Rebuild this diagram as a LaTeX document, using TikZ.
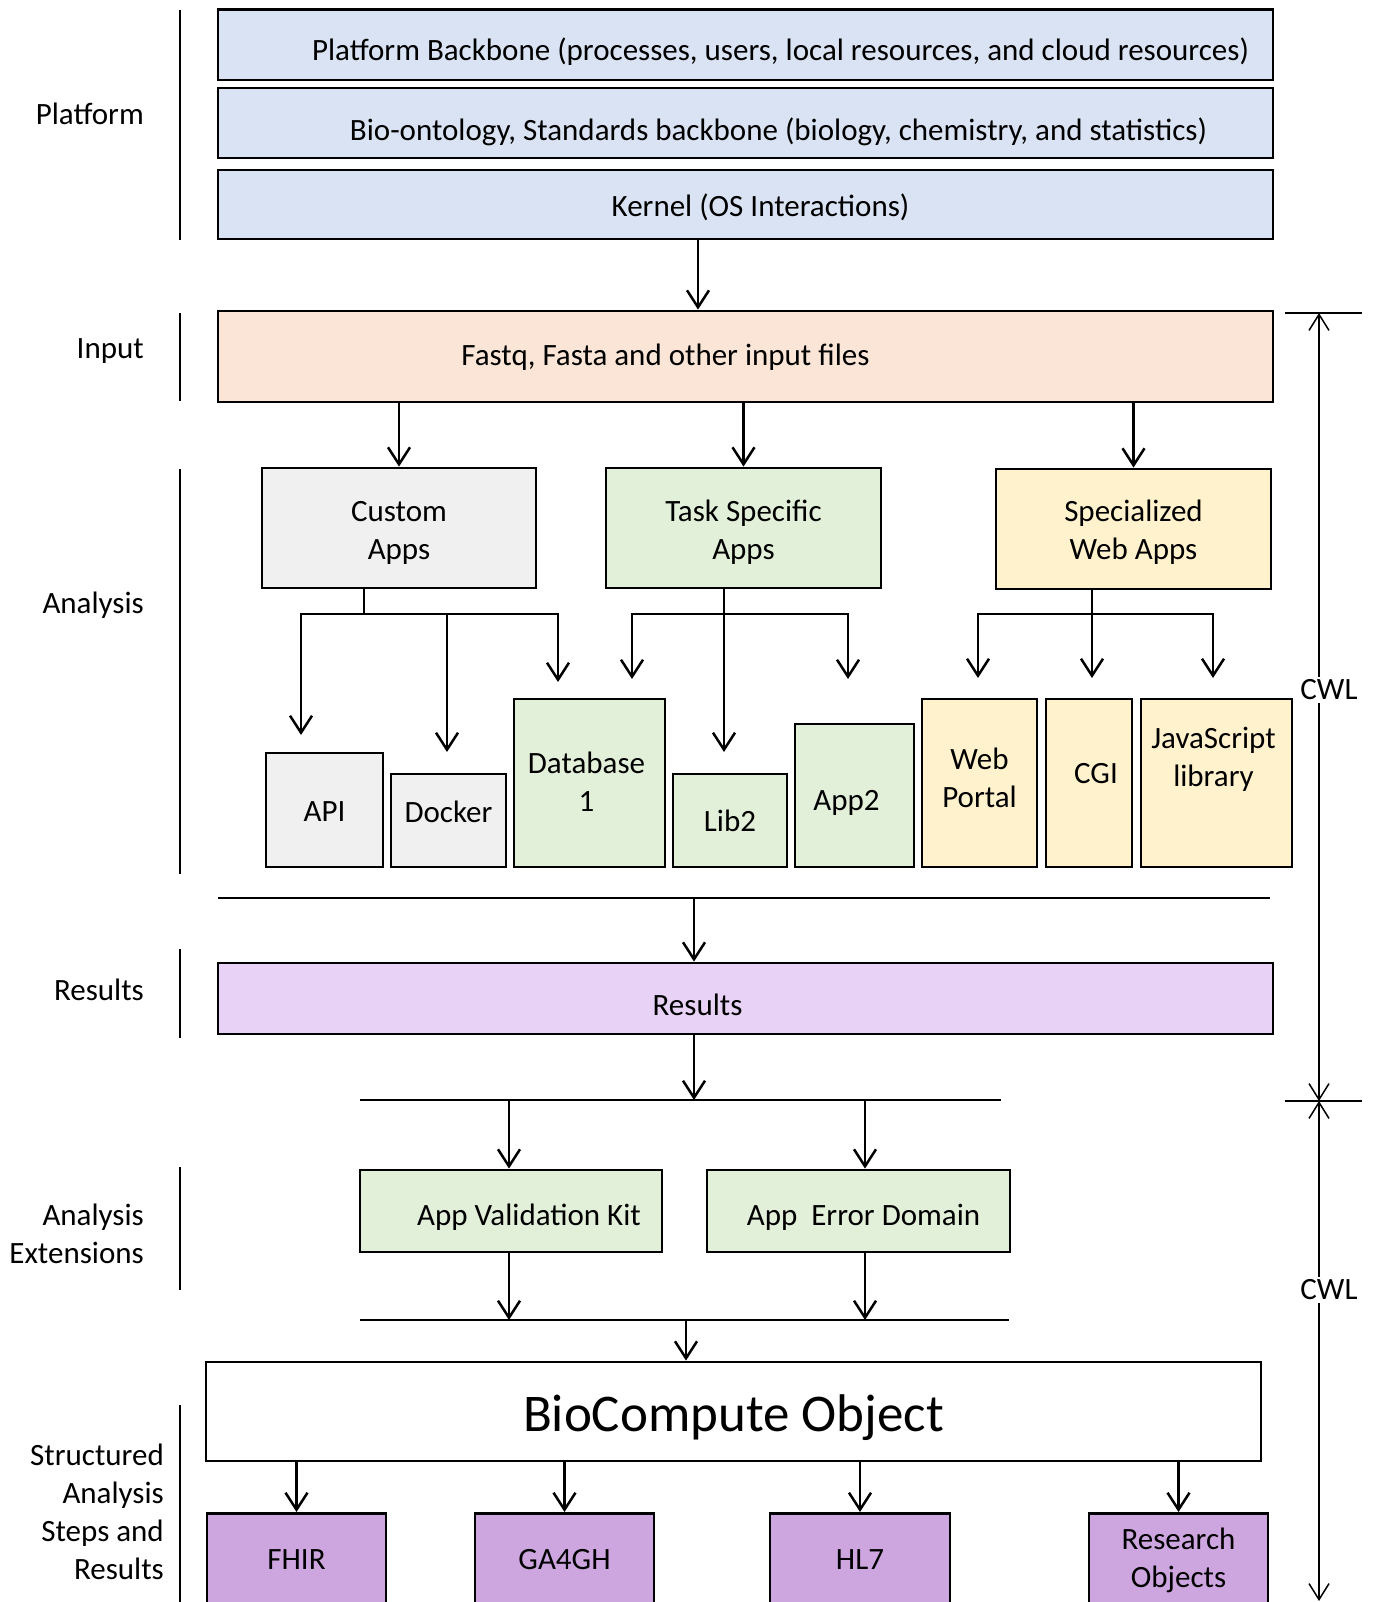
\documentclass[tikz,border=0pt]{standalone}
\usepackage{fontspec}
\setmainfont{Carlito}
\usetikzlibrary{arrows.meta,calc}

\definecolor{platblue}{HTML}{DAE3F3}
\definecolor{inpeach}{HTML}{FBE5D6}
\definecolor{appgray}{HTML}{F0F0F0}
\definecolor{appgreen}{HTML}{E2F0D9}
\definecolor{webyellow}{HTML}{FFF2CC}
\definecolor{reslav}{HTML}{E8D2F6}
\definecolor{stdpurple}{HTML}{CDA6DF}

% move a box text up (positive) or down (negative) without changing its size
\newcommand\liftby[2]{\raisebox{#1}[\height][\depth]{#2}}
% two centred lines
\newcommand\twolines[2]{\begin{tabular}{@{}c@{}}#1\\#2\end{tabular}}

\begin{document}
\begin{tikzpicture}[x=1pt,y=-1pt,
  txt/.style={font=\fontsize{31}{38}\selectfont},
  box/.style={draw=black, line width=2.8pt, inner sep=0pt, align=center, txt},
  conn/.style={line width=2.5pt},
  arr/.style={conn, -{Straight Barb[length=17pt,width=22pt]}},
  side/.style={line width=1.5pt},
  dim/.style={line width=1.5pt,
    {Straight Barb[length=16pt,width=20pt]}-{Straight Barb[length=16pt,width=20pt]}},
  lbl/.style={anchor=east, align=right, inner sep=0pt, txt},
  cwl/.style={fill=white, inner sep=3pt, txt}
]
\useasboundingbox (0,0) rectangle (1374,1602);

% ---------- platform layer ----------
\node[box, fill=platblue, minimum width=1055pt, minimum height=70.5pt] (pb) at (745.5,44.75)
  {\liftby{-7pt}{\hspace*{70pt}Platform Backbone (processes, users, local resources, and cloud resources)}};
\node[box, fill=platblue, minimum width=1055pt, minimum height=70pt] (bio) at (745.5,123)
  {\liftby{-9pt}{\hspace*{66pt}Bio-ontology, Standards backbone (biology, chemistry, and statistics)}};
\node[box, fill=platblue, minimum width=1055pt, minimum height=69pt] (kern) at (745.5,204.5)
  {\liftby{-3pt}{\hspace*{30pt}Kernel (OS Interactions)}};

% ---------- input ----------
\node[box, fill=inpeach, minimum width=1055pt, minimum height=91pt] (input) at (745.5,356.5)
  {\liftby{-1pt}{Fastq, Fasta and other input files\hspace*{160pt}}};

% ---------- analysis apps ----------
\node[box, fill=appgray, minimum width=274pt, minimum height=120pt] (custom) at (399,528)
  {\liftby{-5pt}{\twolines{Custom}{Apps}}};
\node[box, fill=appgreen, minimum width=275pt, minimum height=120pt] (task) at (743.5,528)
  {\liftby{-5pt}{\twolines{Task Specific}{Apps}}};
\node[box, fill=webyellow, minimum width=275pt, minimum height=120pt] (spec) at (1133.5,529)
  {\liftby{-4pt}{\twolines{Specialized}{Web Apps}}};

\node[box, fill=appgray, minimum width=117pt, minimum height=114pt] (api) at (324.5,810) {\liftby{-2pt}{API}};
\node[box, fill=appgray, minimum width=115pt, minimum height=93pt] (docker) at (448.5,820.5) {\liftby{9pt}{Docker}};
\node[box, fill=appgreen, minimum width=151pt, minimum height=168pt] (db) at (589.5,783)
  {\liftby{-2pt}{\twolines{Database}{1}}\hspace*{6pt}};
\node[box, fill=appgreen, minimum width=114pt, minimum height=93pt] (lib2) at (730,820.5) {Lib2};
\node[box, fill=appgreen, minimum width=119pt, minimum height=143pt] (app2) at (854.5,795.5)
  {\liftby{-7pt}{App2}\hspace*{16pt}};
\node[box, fill=webyellow, minimum width=115pt, minimum height=168pt] (web) at (979.5,783)
  {\liftby{2pt}{\twolines{Web}{Portal}}};
\node[box, fill=webyellow, minimum width=86pt, minimum height=168pt] (cgi) at (1089,783)
  {\hspace*{14pt}\liftby{9pt}{CGI}};
\node[box, fill=webyellow, minimum width=151pt, minimum height=168pt] (js) at (1216.5,783)
  {\liftby{23pt}{\twolines{JavaScript}{library}}\hspace*{6pt}};

% ---------- results ----------
\node[box, fill=reslav, minimum width=1055pt, minimum height=71pt] (results) at (745.5,998.5)
  {\liftby{-6pt}{Results\hspace*{96pt}}};

% ---------- analysis extensions ----------
\node[box, fill=appgreen, minimum width=302pt, minimum height=82pt] (val) at (511,1211)
  {\liftby{-6pt}{\hspace*{36pt}App Validation Kit}};
\node[box, fill=appgreen, minimum width=303pt, minimum height=82pt] (err) at (858.5,1211)
  {\liftby{-6pt}{\hspace*{10pt}App\ \ Error Domain}};

% ---------- BioCompute object and standards ----------
\node[box, fill=white, minimum width=1055pt, minimum height=99pt,
      font=\fontsize{53}{64}\selectfont] (bco) at (733.5,1411.5) {\liftby{-6pt}{BioCompute Object}};
\node[box, fill=stdpurple, minimum width=179pt, minimum height=128pt, anchor=north] (fhir) at (296.5,1512)
  {\liftby{18pt}{FHIR}};
\node[box, fill=stdpurple, minimum width=179pt, minimum height=128pt, anchor=north] (ga4gh) at (564.5,1512)
  {\liftby{18pt}{GA4GH}};
\node[box, fill=stdpurple, minimum width=180pt, minimum height=128pt, anchor=north] (hl7) at (860,1512)
  {\liftby{18pt}{HL7}};
\node[box, fill=stdpurple, minimum width=179pt, minimum height=128pt, anchor=north] (ro) at (1178.5,1512)
  {\liftby{17pt}{\twolines{Research}{Objects}}};

% ---------- connectors ----------
\coordinate (kin) at (698,0);
\draw[arr] (kern.south -| kin) -- (input.north -| kin);

\draw[arr] (input.south -| custom.north) -- (custom.north);
\draw[arr] (input.south -| task.north) -- (task.north);
\draw[arr] (input.south -| spec.north) -- (spec.north);

% custom apps fork
\coordinate (cf) at (364,614);
\coordinate (apiT) at (301,735);
\coordinate (dockT) at (447,752);
\coordinate (dbT) at (558,682);
\draw[conn] (custom.south -| cf) -- (cf);
\draw[arr] (cf) -| (apiT);
\draw[arr] (cf) -| (dbT);
\draw[arr] (cf -| dockT) -- (dockT);

% task specific fork
\coordinate (tf) at (724,614);
\coordinate (tlT) at (632,679);
\coordinate (trT) at (848,679);
\coordinate (tcT) at (724,752);
\draw[arr] (task.south -| tf) -- (tcT);
\draw[arr] (tf) -| (tlT);
\draw[arr] (tf) -| (trT);

% specialized web apps fork
\coordinate (sf) at (1092,614);
\coordinate (slT) at (978,678);
\coordinate (srT) at (1213,678);
\coordinate (scT) at (1092,678);
\draw[arr] (spec.south -| sf) -- (scT);
\draw[arr] (sf) -| (slT);
\draw[arr] (sf) -| (srT);

% collecting bus into results
\coordinate (busAl) at (218,898);
\coordinate (busAr) at (1270,898);
\coordinate (busAm) at (694,898);
\draw[conn] (busAl) -- (busAr);
\draw[arr] (busAm) -- (busAm |- results.north);

% results to extensions
\coordinate (busBl) at (360,1100);
\coordinate (busBr) at (1001,1100);
\coordinate (busBm) at (694,1100);
\coordinate (vx) at (509,0);
\coordinate (ex) at (865,0);
\draw[arr] (results.south -| busBm) -- (busBm);
\draw[conn] (busBl) -- (busBr);
\draw[arr] (busBl -| vx) -- (val.north -| vx);
\draw[arr] (busBl -| ex) -- (err.north -| ex);

% extensions to BioCompute object
\coordinate (busCl) at (360,1320);
\coordinate (busCr) at (1009,1320);
\coordinate (busCm) at (686,1320);
\draw[conn] (busCl) -- (busCr);
\draw[arr] (val.south -| vx) -- (busCl -| vx);
\draw[arr] (err.south -| ex) -- (busCl -| ex);
\draw[arr] (busCm) -- (bco.north -| busCm);

\draw[arr] (bco.south -| fhir.north) -- (fhir.north);
\draw[arr] (bco.south -| ga4gh.north) -- (ga4gh.north);
\draw[arr] (bco.south -| hl7.north) -- (hl7.north);
\draw[arr] (bco.south -| ro.north) -- (ro.north);

% ---------- layer labels ----------
\draw[side] (180,10) -- (180,240);
\draw[side] (180,313) -- (180,401);
\draw[side] (180,469) -- (180,874);
\draw[side] (180,949) -- (180,1038);
\draw[side] (180,1167) -- (180,1290);
\draw[side] (180,1405) -- (180,1610);

\node[lbl] (lplat) at (144,114) {Platform};
\node[lbl] (linput) at (144,351) {Input};
\node[lbl] (lana) at (144,605) {Analysis};
\node[lbl] (lres) at (144,990) {Results};
\node[lbl] (lext) at (144,1234) {Analysis\\Extensions};
\node[lbl] (lstr) at (164,1512) {Structured\\Analysis\\Steps and\\Results};

% ---------- CWL extent ----------
\coordinate (cwlTop) at (1319,313);
\coordinate (cwlMid) at (1319,1101);
\coordinate (cwlBot) at (1319,1601);
\draw[side] (1285,313) -- (1362,313);
\draw[side] (1285,1101) -- (1362,1101);
\draw[dim] (cwlTop) -- (cwlMid);
\draw[dim] (cwlMid) -- (cwlBot);
\node[cwl] (cwl1) at (1329,690) {CWL};
\node[cwl] (cwl2) at (1329,1290) {CWL};
\end{tikzpicture}
\end{document}
